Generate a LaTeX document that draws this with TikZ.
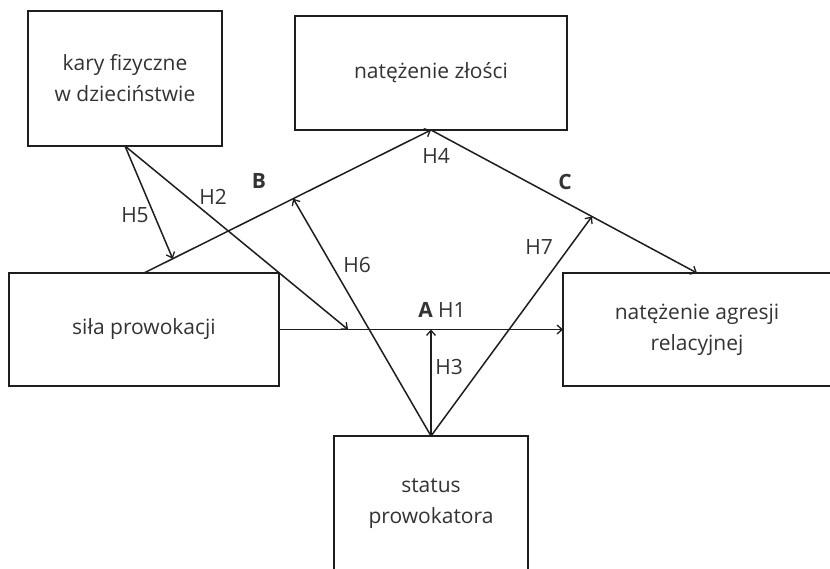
\documentclass[tikz,border=0pt]{standalone}
\usepackage{fontspec}
\setmainfont{Open Sans}
\usetikzlibrary{arrows.meta,calc}
\definecolor{ink}{HTML}{1E1E1E}
\definecolor{txt}{HTML}{333333}
\tikzset{
  box/.style={draw=ink, line width=1.5pt, fill=white, inner sep=0pt, outer sep=0pt,
    align=center, text=txt, font=\fontsize{21}{31}\selectfont},
  link/.style={draw=ink, line width=1.5pt, -{Straight Barb[length=5pt,width=9pt,line width=1.3pt]}},
  lbl/.style={text=txt, font=\fontsize{21}{25}\selectfont, inner sep=0pt},
}
\begin{document}
\begin{tikzpicture}[x=1pt,y=-1pt]
\useasboundingbox[fill=white] (0,0) rectangle (830,569);

% variables
\node[box, minimum width=194pt, minimum height=135pt] (kary) at (125,78.5) {kary fizyczne\\w dzieciństwie};
\node[box, minimum width=272pt, minimum height=114pt] (zlosc) at (431,73) {natężenie złości};
\node[box, minimum width=270pt, minimum height=113pt] (sila) at (144,329.5) {siła prowokacji};
\node[box, minimum width=268pt, minimum height=113pt] (agresja) at (697,329.5) {natężenie agresji\\relacyjnej};
\node[box, minimum width=194pt, minimum height=136pt] (status) at (431,504) {status\\prowokatora};

% points on the paths where the moderating arrows land
\coordinate (onB5) at ($(sila.north)!0.10!(zlosc.south)$);
\coordinate (onB6) at ($(sila.north)!0.52!(zlosc.south)$);
\coordinate (onC7) at ($(zlosc.south)!0.605!(agresja.north)$);
\coordinate (onA2) at ($(sila.east)!0.243!(agresja.west)$);
\coordinate (onA3) at (status.north |- sila.east);

% paths
\draw[link] (sila.east) -- (agresja.west);
\draw[link] (sila.north) -- (zlosc.south);
\draw[link] (zlosc.south) -- (agresja.north);
\draw[link] (kary.south) -- (onB5);
\draw[link] (kary.south) -- (onA2);
\draw[link] (status.north) -- (onA3);
\draw[link] (status.north) -- (onB6);
\draw[link] (status.north) -- (onC7);

% labels
\node[lbl] (lH5) at (135,215) {H5};
\node[lbl] (lH2) at (213,197) {H2};
\node[lbl] (lB) at (259,181) {\textbf{B}};
\node[lbl] (lH4) at (436,156) {H4};
\node[lbl] (lC) at (565,182) {\textbf{C}};
\node[lbl] (lH6) at (357,265) {H6};
\node[lbl] (lH7) at (539,247) {H7};
\node[lbl] (lA) at (442,310) {\textbf{A} H1};
\node[lbl] (lH3) at (449,367) {H3};
\end{tikzpicture}
\end{document}
